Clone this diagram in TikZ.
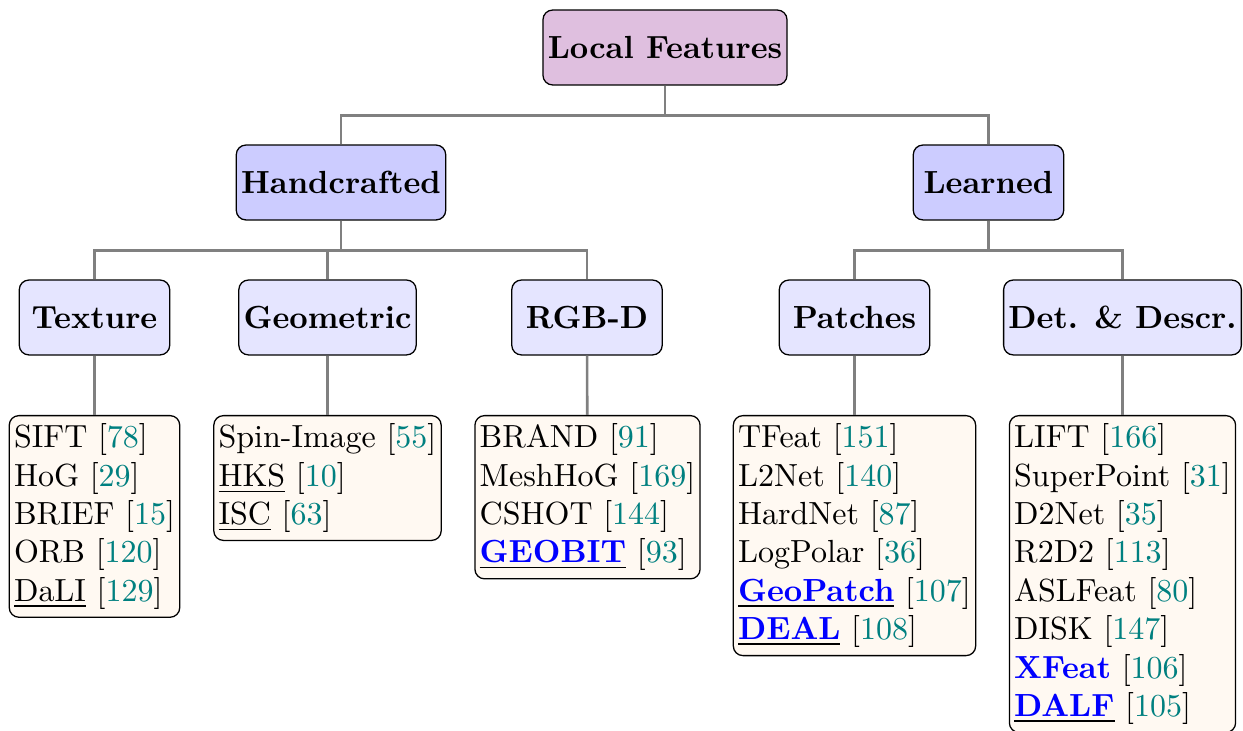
\documentclass[tikz,border=0pt]{standalone}
\usepackage{tikz}
\usepackage{xcolor}

\newcommand{\refnum}[1]{[\textcolor{teal}{#1}]}
\newcommand{\ownwork}[1]{\underline{\textcolor{blue}{\textbf{#1}}}}

\begin{document}
\begin{tikzpicture}[x=0.3125pt,y=0.3125pt,yscale=-1,xscale=1,
  treebox/.style={draw, rounded corners=3pt, font=\bfseries, inner xsep=1.5pt, minimum height=23.4pt, minimum width=47pt},
  rootbox/.style={treebox, fill=violet!25},
  groupbox/.style={treebox, fill=blue!20},
  subbox/.style={treebox, fill=blue!10},
  listbox/.style={draw, rounded corners=3pt, fill=orange!5, align=left, anchor=north, inner xsep=1.5pt, inner ysep=2.5pt},
  link/.style={draw=gray, line width=0.8pt}]
\useasboundingbox (0,0) rectangle (1243,731);

% Text Node
\node[rootbox] (local) at (665,47.5) {Local Features};
% Text Node
\node[groupbox] (hand) at (341,182.5) {Handcrafted};
\node[groupbox] (learn) at (988.5,182.5) {Learned};
% Text Node
\node[subbox] (texture) at (94.5,317.5) {Texture};
\node[subbox] (geom) at (327.5,317.5) {Geometric};
\node[subbox] (rgbd) at (587,317.5) {RGB-D};
\node[subbox] (patch) at (854.5,317.5) {Patches};
\node[subbox] (detdesc) at (1122.5,317.5) {Det. \& Descr.};

% Text Node
\node[listbox] (texlist) at (94.5,415) {SIFT \refnum{78}\\ HoG \refnum{29}\\ BRIEF \refnum{15}\\ ORB \refnum{120}\\ \underline{DaLI} \refnum{129}};
\node[listbox] (geomlist) at (327.5,415) {Spin-Image \refnum{55}\\ \underline{HKS} \refnum{10}\\ \underline{ISC} \refnum{63}};
\node[listbox] (rgbdlist) at (587.5,415) {BRAND \refnum{91}\\ MeshHoG \refnum{169}\\ CSHOT \refnum{144}\\ \ownwork{GEOBIT} \refnum{93}};
\node[listbox] (patchlist) at (854.5,415) {TFeat \refnum{151}\\ L2Net \refnum{140}\\ HardNet \refnum{87}\\ LogPolar \refnum{36}\\ \ownwork{GeoPatch} \refnum{107}\\ \ownwork{DEAL} \refnum{108}};
\node[listbox] (detlist) at (1122.5,415) {LIFT \refnum{166}\\ SuperPoint \refnum{31}\\ D2Net \refnum{35}\\ R2D2 \refnum{113}\\ ASLFeat \refnum{80}\\ DISK \refnum{147}\\ \textcolor{blue}{\textbf{XFeat}} \refnum{106}\\ \ownwork{DALF} \refnum{105}};

%Straight Lines
\draw[link] (local.south) -- ++(0,30) -| (hand.north);
\draw[link] (local.south) -- ++(0,30) -| (learn.north);
%Straight Lines
\draw[link] (hand.south) -- ++(0,30) -| (texture.north);
\draw[link] (hand.south) -- ++(0,30) -| (geom.north);
\draw[link] (hand.south) -- ++(0,30) -| (rgbd.north);
\draw[link] (learn.south) -- ++(0,30) -| (patch.north);
\draw[link] (learn.south) -- ++(0,30) -| (detdesc.north);
%Straight Lines
\draw[link] (texture) -- (texlist);
\draw[link] (geom) -- (geomlist);
\draw[link] (rgbd) -- (rgbdlist);
\draw[link] (patch) -- (patchlist);
\draw[link] (detdesc) -- (detlist);

\end{tikzpicture}
\end{document}
